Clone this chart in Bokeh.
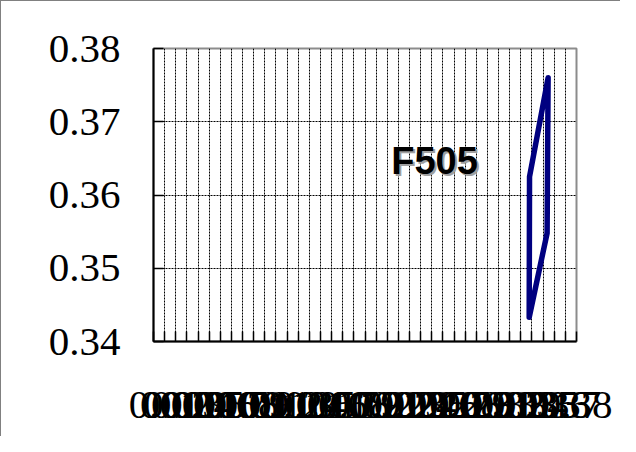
from bokeh.plotting import figure
from bokeh.models import FixedTicker, Label, Range1d
from bokeh.embed import file_html
from bokeh.resources import INLINE

# ---- data ----
x_values = [0.3378, 0.3375, 0.3536, 0.3545, 0.3378]
y_values = [0.3625, 0.3433, 0.3548, 0.3760, 0.3625]

x_ticks = [0.00, 0.01, 0.02, 0.03, 0.04, 0.05, 0.06, 0.07, 0.08, 0.09,
           0.10, 0.11, 0.12, 0.13, 0.14, 0.15, 0.16, 0.17, 0.18, 0.19,
           0.20, 0.21, 0.22, 0.23, 0.24, 0.25, 0.26, 0.27, 0.28, 0.29,
           0.30, 0.31, 0.32, 0.33, 0.34, 0.35, 0.36, 0.37, 0.38]
x_tick_labels = ["0", "0.01", "0.02", "0.03", "0.04", "0.05", "0.06", "0.07", "0.08", "0.09",
                 "0.1", "0.11", "0.12", "0.13", "0.14", "0.15", "0.16", "0.17", "0.18", "0.19",
                 "0.2", "0.21", "0.22", "0.23", "0.24", "0.25", "0.26", "0.27", "0.28", "0.29",
                 "0.3", "0.31", "0.32", "0.33", "0.34", "0.35", "0.36", "0.37", "0.38"]
y_ticks = [0.34, 0.35, 0.36, 0.37, 0.38]
y_tick_labels = ["0.34", "0.35", "0.36", "0.37", "0.38"]
title_text = "F505"

p = figure(width=620, height=436, output_backend="svg", toolbar_location=None,
           x_range=Range1d(0.0, 0.38), y_range=Range1d(0.34, 0.38),
           min_border_left=152, min_border_right=45, min_border_top=47, min_border_bottom=96,
           background_fill_color="white", border_fill_color="white",
           styles={"border-left": "1px solid #808080", "border-top": "1px solid #808080"})

p.outline_line_color = "#8c8c8c"
p.outline_line_width = 2

# grids
p.xgrid.ticker = FixedTicker(ticks=x_ticks)
p.ygrid.ticker = FixedTicker(ticks=y_ticks)
for g in (p.xgrid, p.ygrid):
    g.grid_line_color = "black"
    g.grid_line_dash = "2 1"
    g.grid_line_width = 1
    g.grid_line_alpha = 1.0

# axes
p.xaxis.ticker = FixedTicker(ticks=x_ticks)
p.yaxis.ticker = FixedTicker(ticks=y_ticks)
p.xaxis.major_label_overrides = {t: s for t, s in zip(x_ticks, x_tick_labels)}
p.yaxis.major_label_overrides = {t: s for t, s in zip(y_ticks, y_tick_labels)}
for ax in (p.xaxis, p.yaxis):
    ax.axis_line_color = "black"
    ax.axis_line_width = 2
    ax.major_tick_in = 10
    ax.major_tick_out = 0
    ax.major_tick_line_color = "black"
    ax.major_tick_line_width = 1.5
    ax.minor_tick_line_color = None
    ax.major_label_text_font = "Liberation Serif"
    ax.major_label_text_color = "black"
p.yaxis.major_label_text_font_size = "41px"
p.yaxis.major_label_standoff = 33
p.xaxis.major_label_text_font_size = "41px"
p.xaxis.major_label_standoff = 50

# series
p.line(x_values, y_values, line_color="#000080", line_width=5.5, line_join="round", line_cap="round")

# title inside plot with shadow
shadow = Label(x=0.2525, y=0.3646, text=title_text, text_align="center", text_baseline="middle",
               text_font="Liberation Sans", text_font_style="bold", text_font_size="38px",
               text_color="#a0a0a0", x_offset=2, y_offset=-2)
lab = Label(x=0.2525, y=0.3646, text=title_text, text_align="center", text_baseline="middle",
            text_font="Liberation Sans", text_font_style="bold", text_font_size="38px",
            text_color="black")
p.add_layout(shadow)
p.add_layout(lab)

open("out.html", "w").write(file_html(p, INLINE))
